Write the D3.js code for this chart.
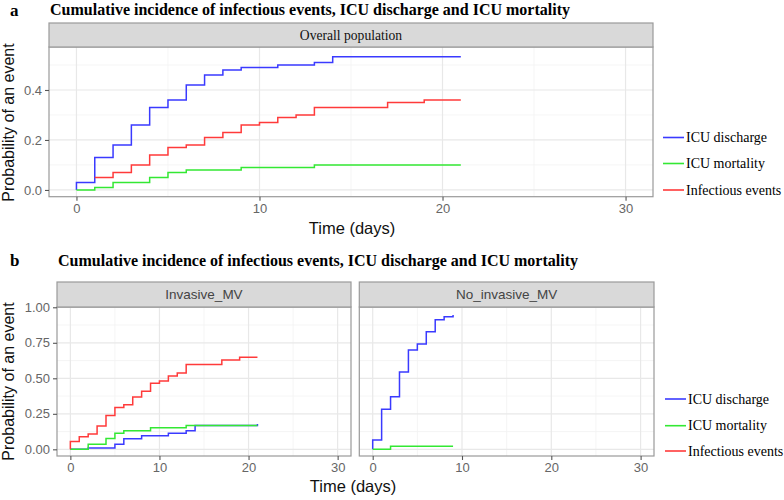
<!DOCTYPE html>
<html>
<head>
<meta charset="utf-8">
<script src="https://cdn.jsdelivr.net/npm/d3@7/dist/d3.min.js"></script>
<style>
  html, body { margin: 0; padding: 0; background: #fff; }
  svg { display: block; }
</style>
</head>
<body>
<svg id="chart" width="784" height="500"></svg>
<script>
// ---------------- DATA ----------------
const seriesNames = ["ICU discharge", "ICU mortality", "Infectious events"];
const seriesColors = ["#3a3aff", "#33e833", "#ff3a3a"];
const titleText = "Cumulative incidence of infectious events, ICU discharge and ICU mortality";
const panelLabels = ["Overall population", "Invasive_MV", "No_invasive_MV"];
const xTicks = [0, 10, 20, 30];
const yTicksA = [0.0, 0.2, 0.4];
const yTickLabelsA = ["0.0", "0.2", "0.4"];
const yTicksB = [0, 0.25, 0.5, 0.75, 1.0];
const yTickLabelsB = ["0.00", "0.25", "0.50", "0.75", "1.00"];

// Panel a: overall population  [time (days), probability]
const overallDischarge = [[0,0],[0,0.03],[1,0.13],[2,0.18],[3,0.26],[4,0.33],[5,0.36],[6,0.42],[7,0.46],[8,0.48],[9,0.49],[11,0.50],[13,0.51],[14,0.533],[21,0.533]];
const overallMortality = [[0,0],[1,0.01],[2,0.03],[4,0.05],[5,0.07],[6,0.08],[9,0.09],[13,0.10],[21,0.10]];
const overallInfection = [[1,0.05],[2,0.07],[3,0.10],[4,0.14],[5,0.17],[6,0.18],[7,0.21],[8,0.23],[9,0.26],[10,0.27],[11,0.29],[12,0.30],[13,0.33],[17,0.35],[19,0.36],[21,0.36]];

// Panel b: invasive MV
const invDischarge = [[0,0],[2,0.01],[5,0.035],[6,0.075],[8,0.095],[11,0.113],[13,0.13],[14,0.168],[21,0.168],[21,0.178]];
const invMortality = [[0,0],[2,0.035],[4,0.076],[5,0.113],[6,0.13],[9,0.152],[13,0.168],[21,0.168]];
const invInfection = [[0,0],[0,0.055],[1,0.089],[2,0.108],[3,0.164],[4,0.239],[5,0.295],[6,0.314],[7,0.368],[8,0.408],[9,0.465],[10,0.481],[11,0.516],[12,0.537],[13,0.598],[17,0.629],[19,0.648],[21,0.648]];

// Panel b: no invasive MV
const noInvDischarge = [[0,0],[0,0.065],[1,0.282],[2,0.371],[3,0.544],[4,0.699],[5,0.742],[6,0.828],[7,0.913],[8,0.934],[9,0.945]];
const noInvMortality = [[0,0],[2,0.021],[9,0.021]];

// ---------------- DRAWING ----------------
const svg = d3.select("#chart");
const sans = "'Liberation Sans', Arial, sans-serif";
const serif = "'Liberation Serif', 'Times New Roman', serif";
const borderCol = "#9a9a9a";
const tickCol = "#555";
const tickTextCol = "#666";

function drawPanel(opts) {
  const { x0, x1, yTop, yBot, stripTop, yDomain, yTicks, yTickLabels, showY, label, labelFont, labelSize, labelColor, series, minorY } = opts;
  const x = d3.scaleLinear().domain([-1.5, 31.5]).range([x0, x1]);
  const y = d3.scaleLinear().domain(yDomain).range([yBot, yTop]);
  const g = svg.append("g");

  g.append("rect").attr("x", x0).attr("y", yTop).attr("width", x1 - x0).attr("height", yBot - yTop).attr("fill", "#fff");

  const minorX = [5, 15, 25];
  g.selectAll(null).data(minorX).enter().append("line")
    .attr("x1", d => x(d)).attr("x2", d => x(d)).attr("y1", yTop).attr("y2", yBot)
    .attr("stroke", "#f2f2f2").attr("stroke-width", 0.8);
  g.selectAll(null).data(minorY).enter().append("line")
    .attr("y1", d => y(d)).attr("y2", d => y(d)).attr("x1", x0).attr("x2", x1)
    .attr("stroke", "#f2f2f2").attr("stroke-width", 0.8);
  g.selectAll(null).data(xTicks).enter().append("line")
    .attr("x1", d => x(d)).attr("x2", d => x(d)).attr("y1", yTop).attr("y2", yBot)
    .attr("stroke", "#e8e8e8").attr("stroke-width", 1.2);
  g.selectAll(null).data(yTicks).enter().append("line")
    .attr("y1", d => y(d)).attr("y2", d => y(d)).attr("x1", x0).attr("x2", x1)
    .attr("stroke", "#e8e8e8").attr("stroke-width", 1.2);

  const line = d3.line().x(d => x(d[0])).y(d => y(d[1])).curve(d3.curveStepAfter);
  series.forEach((s, i) => {
    if (!s) return;
    g.append("path").datum(s).attr("d", line)
      .attr("fill", "none").attr("stroke", seriesColors[i]).attr("stroke-width", 1.5);
  });

  g.append("rect").attr("x", x0).attr("y", yTop).attr("width", x1 - x0).attr("height", yBot - yTop)
    .attr("fill", "none").attr("stroke", borderCol).attr("stroke-width", 1.2);

  g.append("rect").attr("x", x0).attr("y", stripTop).attr("width", x1 - x0).attr("height", yTop - stripTop)
    .attr("fill", "#d9d9d9").attr("stroke", borderCol).attr("stroke-width", 1.2);
  g.append("text").attr("x", (x0 + x1) / 2).attr("y", (stripTop + yTop) / 2)
    .attr("text-anchor", "middle").attr("dominant-baseline", "central")
    .attr("font-family", labelFont).attr("font-size", labelSize).attr("fill", labelColor)
    .text(label);

  const xAxis = d3.axisBottom(x).tickValues(xTicks).tickSize(4).tickPadding(3).tickFormat(d3.format("d"));
  const xa = g.append("g").attr("transform", `translate(0,${yBot})`).call(xAxis);
  xa.select(".domain").remove();
  xa.selectAll(".tick line").attr("stroke", tickCol).attr("stroke-width", 1.1);
  xa.selectAll(".tick text").attr("font-family", sans).attr("font-size", 13).attr("fill", tickTextCol);

  if (showY) {
    const yAxis = d3.axisLeft(y).tickValues(yTicks).tickSize(4).tickPadding(3).tickFormat((d, i) => yTickLabels[i]);
    const ya = g.append("g").attr("transform", `translate(${x0},0)`).call(yAxis);
    ya.select(".domain").remove();
    ya.selectAll(".tick line").attr("stroke", tickCol).attr("stroke-width", 1.1);
    ya.selectAll(".tick text").attr("font-family", sans).attr("font-size", 13).attr("fill", tickTextCol);
  }
  return { x, y };
}

function drawTitle(letter, lx, tx, baseline, letterBaseline) {
  svg.append("text").attr("x", lx).attr("y", letterBaseline).attr("font-family", serif)
    .attr("font-weight", "bold").attr("font-size", 17).attr("fill", "#000").text(letter);
  svg.append("text").attr("x", tx).attr("y", baseline).attr("font-family", serif)
    .attr("font-weight", "bold").attr("font-size", 16).attr("fill", "#000").text(titleText);
}

function drawLegend(lx, ys) {
  seriesNames.forEach((n, i) => {
    svg.append("line").attr("x1", lx).attr("x2", lx + 21).attr("y1", ys[i]).attr("y2", ys[i])
      .attr("stroke", seriesColors[i]).attr("stroke-width", 1.6);
    svg.append("text").attr("x", lx + 23).attr("y", ys[i]).attr("dominant-baseline", "central")
      .attr("font-family", serif).attr("font-size", 14).attr("fill", "#000").text(n);
  });
}

function axisTitles(cx, xBase, cy) {
  svg.append("text").attr("x", cx).attr("y", xBase).attr("text-anchor", "middle")
    .attr("font-family", sans).attr("font-size", 16.5).attr("fill", "#111").text("Time (days)");
  svg.append("text").attr("transform", `translate(13.5,${cy}) rotate(-90)`).attr("text-anchor", "middle")
    .attr("font-family", sans).attr("font-size", 16).attr("fill", "#111").text("Probability of an event");
}

// ---- Panel a ----
drawTitle("a", 10, 50, 15, 15.5);
drawPanel({
  x0: 49, x1: 653, yTop: 47, yBot: 196.7, stripTop: 23,
  yDomain: [-0.027, 0.572], yTicks: yTicksA, yTickLabels: yTickLabelsA, minorY: [0.1, 0.3, 0.5],
  showY: true, label: panelLabels[0], labelFont: serif, labelSize: 13.6, labelColor: "#111",
  series: [overallDischarge, overallMortality, overallInfection]
});
axisTitles(352, 234, 122.5);
drawLegend(663, [137.5, 163.5, 190]);

// ---- Panel b ----
drawTitle("b", 10, 58, 266, 266);
drawPanel({
  x0: 57, x1: 351, yTop: 307, yBot: 456, stripTop: 282,
  yDomain: [-0.047, 1.002], yTicks: yTicksB, yTickLabels: yTickLabelsB, minorY: [0.125, 0.375, 0.625, 0.875],
  showY: true, label: panelLabels[1], labelFont: sans, labelSize: 13.5, labelColor: "#444",
  series: [invDischarge, invMortality, invInfection]
});
drawPanel({
  x0: 359.3, x1: 654, yTop: 307, yBot: 456, stripTop: 282,
  yDomain: [-0.047, 1.002], yTicks: yTicksB, yTickLabels: yTickLabelsB, minorY: [0.125, 0.375, 0.625, 0.875],
  showY: false, label: panelLabels[2], labelFont: sans, labelSize: 13.5, labelColor: "#444",
  series: [noInvDischarge, noInvMortality, null]
});
axisTitles(353, 492, 381.5);
drawLegend(665, [399, 425.7, 451]);
</script>
</body>
</html>
